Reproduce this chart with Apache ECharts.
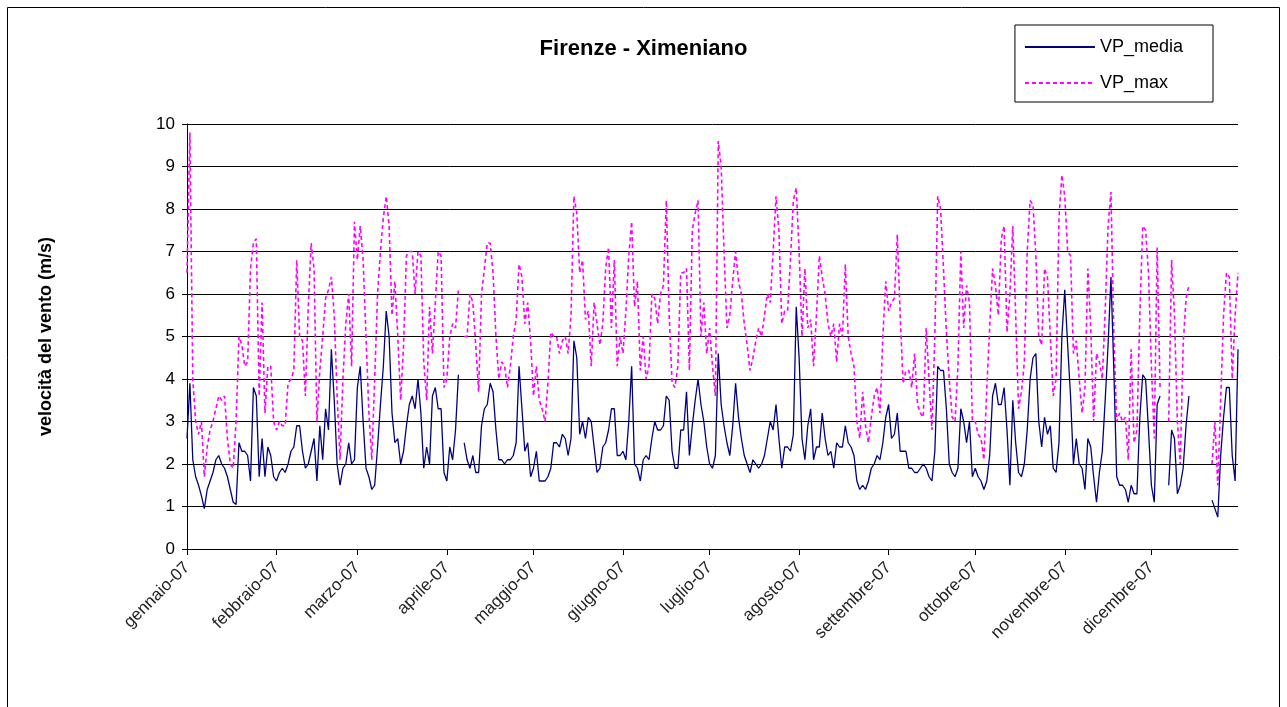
<!DOCTYPE html>
<html>
<head>
<meta charset="utf-8">
<title>Firenze - Ximeniano</title>
<script src="https://cdn.jsdelivr.net/npm/echarts@6/dist/echarts.min.js"></script>
<style>
  html, body { margin: 0; padding: 0; background: #fff; }
  #chart { width: 1287px; height: 707px; }
</style>
</head>
<body>
<div id="chart"></div>
<script>
// month labels on the x axis (one tick per month)
const monthLabels = ['gennaio-07', 'febbraio-07', 'marzo-07', 'aprile-07', 'maggio-07', 'giugno-07',
  'luglio-07', 'agosto-07', 'settembre-07', 'ottobre-07', 'novembre-07', 'dicembre-07'];

// daily mean wind speed (m/s), one row per month, null = missing day
const mediaByMonth = [
  [2.6, 3.9, 2.1, 1.7, 1.5, 1.25, 0.95, 1.4, 1.6, 1.8, 2.1, 2.2, 2.0, 1.9, 1.7, 1.4, 1.1, 1.05, 2.5, 2.3, 2.3, 2.2, 1.6, 3.8, 3.6, 1.7, 2.6, 1.7, 2.4, 2.2, 1.7],
  [1.6, 1.8, 1.9, 1.8, 2.0, 2.3, 2.4, 2.9, 2.9, 2.3, 1.9, 2.0, 2.3, 2.6, 1.6, 2.9, 2.1, 3.3, 2.8, 4.7, 3.5, 2.0, 1.5, 1.9, 2.0, 2.5, 2.0, 2.1],
  [3.8, 4.3, 3.0, 1.9, 1.7, 1.4, 1.5, 2.4, 3.4, 4.3, 5.6, 5.0, 3.2, 2.5, 2.6, 2.0, 2.3, 2.9, 3.4, 3.6, 3.3, 4.0, 3.2, 1.9, 2.4, 2.0, 3.6, 3.8, 3.3, 3.3, 1.8],
  [1.6, 2.4, 2.1, 2.8, 4.1, null, 2.5, 2.1, 1.9, 2.2, 1.8, 1.8, 2.9, 3.3, 3.4, 3.9, 3.7, 2.8, 2.1, 2.1, 2.0, 2.1, 2.1, 2.2, 2.5, 4.3, 3.3, 2.3, 2.5, 1.7],
  [1.9, 2.3, 1.6, 1.6, 1.6, 1.7, 1.9, 2.5, 2.5, 2.4, 2.7, 2.6, 2.2, 2.6, 4.9, 4.5, 2.7, 3.0, 2.6, 3.1, 3.0, 2.4, 1.8, 1.9, 2.4, 2.5, 2.8, 3.3, 3.3, 2.2, 2.2],
  [2.3, 2.1, 3.0, 4.3, 2.0, 1.9, 1.6, 2.1, 2.2, 2.1, 2.6, 3.0, 2.8, 2.8, 2.9, 3.6, 3.5, 2.3, 1.9, 1.9, 2.8, 2.8, 3.7, 2.2, 2.9, 3.5, 4.0, 3.4, 3.0, 2.4],
  [2.0, 1.9, 2.2, 4.6, 3.4, 2.9, 2.5, 2.2, 2.9, 3.9, 3.1, 2.6, 2.2, 2.0, 1.8, 2.1, 2.0, 1.9, 2.0, 2.2, 2.6, 3.0, 2.8, 3.4, 2.6, 1.9, 2.4, 2.4, 2.3, 2.7, 5.7],
  [4.5, 2.6, 2.1, 2.9, 3.3, 2.1, 2.4, 2.4, 3.2, 2.6, 2.2, 2.3, 1.9, 2.5, 2.4, 2.4, 2.9, 2.5, 2.4, 2.2, 1.6, 1.4, 1.5, 1.4, 1.6, 1.9, 2.0, 2.2, 2.1, 2.5, 3.1],
  [3.4, 2.6, 2.7, 3.2, 2.3, 2.3, 2.3, 1.9, 1.9, 1.8, 1.8, 1.9, 2.0, 1.9, 1.7, 1.6, 2.3, 4.3, 4.2, 4.2, 3.3, 2.0, 1.8, 1.7, 1.9, 3.3, 3.0, 2.5, 3.0, 1.7],
  [1.9, 1.7, 1.6, 1.4, 1.6, 2.2, 3.6, 3.9, 3.4, 3.4, 3.8, 2.8, 1.5, 3.5, 2.5, 1.8, 1.7, 2.0, 2.8, 4.0, 4.5, 4.6, 3.0, 2.4, 3.1, 2.7, 2.9, 1.9, 1.8, 2.5, 5.0],
  [6.1, 4.8, 3.6, 2.0, 2.6, 2.0, 1.9, 1.4, 2.6, 2.4, 1.7, 1.1, 1.8, 2.3, 3.5, 4.8, 6.4, 4.2, 1.7, 1.5, 1.5, 1.4, 1.1, 1.5, 1.3, 1.3, 3.1, 4.1, 4.0, 2.8],
  [1.5, 1.1, 3.4, 3.6, null, null, 1.5, 2.8, 2.6, 1.3, 1.5, 1.9, 2.9, 3.6, null, null, null, null, null, null, null, 1.15, 0.95, 0.75, 2.2, 3.1, 3.8, 3.8, 2.2, 1.6, 4.7]
];

// daily maximum wind speed (m/s)
const maxByMonth = [
  [6.5, 9.8, 4.0, 3.0, 2.7, 3.0, 1.7, 2.4, 2.8, 3.0, 3.3, 3.6, 3.5, 3.6, 2.6, 2.0, 1.9, 3.0, 5.0, 4.8, 4.3, 4.4, 6.6, 7.2, 7.3, 3.6, 5.8, 3.2, 4.3, 4.3, 3.0],
  [2.8, 3.0, 2.9, 2.9, 3.9, 4.0, 4.2, 6.8, 5.0, 4.9, 3.6, 5.7, 7.2, 6.6, 3.0, 4.2, 5.0, 5.9, 6.1, 6.4, 5.5, 3.6, 2.1, 4.0, 5.3, 6.0, 4.3, 7.7],
  [6.8, 7.6, 6.8, 5.0, 3.2, 2.1, 4.0, 6.0, 7.0, 7.8, 8.3, 7.6, 5.5, 6.3, 5.0, 3.5, 4.8, 6.9, 7.0, 7.0, 6.0, 7.0, 6.9, 4.4, 3.5, 5.7, 4.6, 5.8, 7.0, 6.9, 3.8],
  [4.0, 5.0, 5.3, 5.2, 6.1, null, 5.0, 5.0, 6.0, 5.8, 4.8, 3.7, 6.0, 6.6, 7.2, 7.2, 6.5, 5.0, 4.0, 4.4, 4.3, 3.8, 4.3, 5.0, 5.4, 6.7, 6.4, 5.3, 5.8, 4.9],
  [3.6, 4.3, 3.5, 3.3, 3.0, 3.9, 5.1, 5.0, 5.0, 4.6, 4.9, 5.0, 4.6, 5.5, 8.3, 7.9, 6.5, 6.8, 5.4, 5.6, 4.3, 5.8, 5.3, 4.8, 5.3, 6.6, 7.1, 5.2, 6.8, 4.3, 5.0],
  [4.6, 5.6, 6.9, 7.7, 5.7, 6.3, 4.2, 5.0, 4.0, 4.3, 6.0, 5.9, 5.3, 6.0, 6.2, 8.2, 5.5, 3.9, 3.8, 4.3, 6.5, 6.5, 6.6, 4.2, 7.5, 7.9, 8.2, 5.0, 5.8, 4.6],
  [5.2, 4.3, 3.6, 9.6, 9.0, 7.0, 5.2, 5.5, 6.3, 7.0, 6.3, 6.0, 5.3, 4.8, 4.2, 4.5, 4.9, 5.2, 5.0, 5.5, 6.0, 5.8, 7.0, 8.3, 7.5, 5.3, 5.6, 5.6, 6.8, 8.2, 8.5],
  [7.0, 5.0, 6.6, 5.2, 5.4, 4.3, 5.5, 6.9, 6.4, 6.0, 5.3, 5.0, 5.3, 4.4, 5.3, 5.0, 6.7, 5.0, 4.6, 4.3, 3.0, 2.6, 3.7, 2.9, 2.5, 3.1, 3.6, 3.8, 3.2, 5.0, 6.3],
  [5.6, 5.8, 5.9, 7.4, 5.5, 3.9, 4.2, 4.2, 3.8, 4.6, 3.4, 3.2, 3.1, 5.2, 4.0, 2.8, 5.0, 8.3, 8.0, 6.6, 5.1, 4.0, 3.1, 3.0, 4.3, 7.0, 5.2, 6.2, 5.8, 3.0],
  [3.0, 2.7, 2.6, 2.1, 3.8, 5.2, 6.6, 6.2, 5.5, 7.3, 7.6, 5.1, 6.0, 7.6, 5.5, 3.3, 3.7, 4.4, 7.0, 8.2, 8.1, 6.9, 5.0, 4.8, 6.6, 6.4, 5.0, 3.6, 4.0, 7.8, 8.8],
  [8.3, 7.0, 6.9, 4.6, 4.9, 4.0, 3.2, 3.8, 6.6, 5.2, 3.0, 4.6, 4.4, 4.0, 5.6, 7.6, 8.4, 5.0, 3.0, 3.2, 3.0, 3.1, 2.1, 4.7, 2.5, 2.8, 5.5, 7.6, 7.5, 6.5],
  [4.3, 2.6, 7.1, 3.8, null, null, 3.0, 6.8, 5.5, 3.0, 2.0, 4.8, 5.9, 6.2, null, null, null, null, null, null, null, 2.0, 3.0, 1.5, 3.5, 5.5, 6.5, 6.4, 4.0, 5.5, 6.5]
];

// build one category per day, remember where each month starts
const days = [];
const monthStart = new Set();
monthLabels.forEach((m, i) => {
  monthStart.add(days.length);
  mediaByMonth[i].forEach((_, d) => days.push(d === 0 ? m : m + ' ' + (d + 1)));
});
const vpMedia = [].concat(...mediaByMonth);
const vpMax = [].concat(...maxByMonth);

const font = 'Liberation Sans, Arial, sans-serif';
const chart = echarts.init(document.getElementById('chart'));

chart.setOption({
  animation: false,
  backgroundColor: '#fff',
  textStyle: { fontFamily: font },
  graphic: [{
    type: 'rect',
    shape: { x: 7.5, y: 7.5, width: 1272, height: 720 },
    style: { fill: 'none', stroke: '#000', lineWidth: 1 },
    silent: true
  }],
  title: {
    text: 'Firenze - Ximeniano',
    left: 'center',
    top: 33,
    textStyle: { fontFamily: font, fontSize: 22, fontWeight: 'bold', color: '#000' }
  },
  legend: {
    orient: 'vertical',
    right: 74,
    top: 25,
    padding: [13, 30, 10, 9],
    itemGap: 18,
    itemWidth: 70,
    itemHeight: 14,
    borderColor: '#000',
    borderWidth: 1,
    backgroundColor: '#fff',
    itemStyle: { opacity: 0 },
    textStyle: { fontFamily: font, fontSize: 18, color: '#000' },
    data: ['VP_media', 'VP_max']
  },
  grid: { left: 187, right: 49, top: 124, bottom: 158 },
  xAxis: {
    type: 'category',
    data: days,
    boundaryGap: false,
    axisLine: { lineStyle: { color: '#000', width: 1 } },
    axisTick: {
      interval: (i) => monthStart.has(i),
      length: 6,
      lineStyle: { color: '#000' }
    },
    axisLabel: {
      interval: (i) => monthStart.has(i),
      rotate: 45,
      margin: 16,
      fontFamily: font,
      fontSize: 17,
      color: '#222'
    },
    splitLine: { show: false }
  },
  yAxis: {
    type: 'value',
    min: 0,
    max: 10,
    interval: 1,
    name: 'velocità del vento (m/s)',
    nameLocation: 'middle',
    nameGap: 132,
    nameTextStyle: { fontFamily: font, fontSize: 18, fontWeight: 'bold', color: '#000' },
    axisLine: { show: true, lineStyle: { color: '#000', width: 1 } },
    axisTick: { show: true, length: 5, lineStyle: { color: '#000' } },
    axisLabel: { fontFamily: font, fontSize: 17, color: '#000', margin: 12 },
    splitLine: { lineStyle: { color: '#000', width: 1 } }
  },
  series: [
    {
      name: 'VP_media',
      type: 'line',
      data: vpMedia,
      symbol: 'none',
      color: '#000080',
      lineStyle: { color: '#000080', width: 1.3 },
      z: 3
    },
    {
      name: 'VP_max',
      type: 'line',
      data: vpMax,
      symbol: 'none',
      color: '#ff00ff',
      lineStyle: { color: '#ff00ff', width: 1.6, type: [4, 3] },
      z: 2
    }
  ]
});
</script>
</body>
</html>
